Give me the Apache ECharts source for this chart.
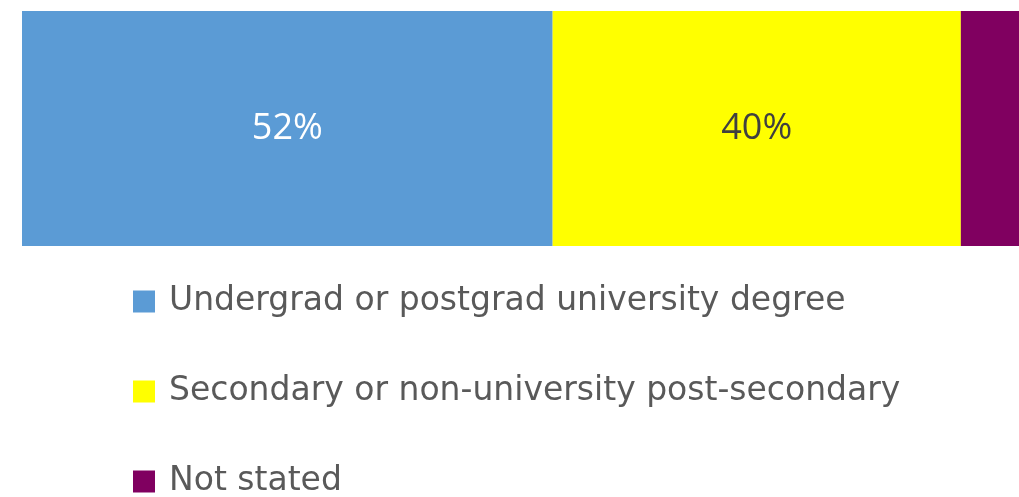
<!DOCTYPE html>
<html>
<head>
<meta charset="utf-8">
<script src="https://cdn.jsdelivr.net/npm/echarts@6/dist/echarts.min.js"></script>
<style>
  html, body { margin: 0; padding: 0; background: #ffffff; }
  #chart { width: 1019px; height: 497px; }
</style>
</head>
<body>
<div id="chart"></div>
<script>
// Share of respondents by highest education level (%)
const categories = ['Education'];
const seriesNames = [
  'Undergrad or postgrad university degree',
  'Secondary or non-university post-secondary',
  'Not stated'
];
const seriesValues = [52, 40, 8];
const seriesColors = ['#5b9bd5', '#ffff00', '#800060'];
const labelColors = ['#ffffff', '#404040', '#ffffff'];
const showLabel = [true, true, false];

const LABEL_FONT = '"Open Sans", "DejaVu Sans", sans-serif';
const LEGEND_FONT = '"DejaVu Sans", "Open Sans", sans-serif';

const chart = echarts.init(document.getElementById('chart'), null, { renderer: 'canvas' });

const series = seriesNames.map((name, i) => ({
  name: name,
  type: 'bar',
  stack: 'total',
  barWidth: 235,
  clip: true,
  data: [seriesValues[i]],
  itemStyle: { color: seriesColors[i] },
  label: {
    show: showLabel[i],
    position: 'inside',
    formatter: '{c}%',
    color: labelColors[i],
    fontFamily: LABEL_FONT,
    fontSize: 36
  },
  emphasis: { disabled: true }
}));

chart.setOption({
  animation: false,
  backgroundColor: '#ffffff',
  grid: { left: 22, right: 0, top: 11, height: 235, containLabel: false },
  xAxis: {
    type: 'value',
    min: 0,
    max: 97.7,
    show: false
  },
  yAxis: {
    type: 'category',
    data: categories,
    show: false
  },
  legend: {
    orient: 'vertical',
    left: 128,
    top: 280,
    width: 880,
    height: 400,
    icon: 'rect',
    itemWidth: 22,
    itemHeight: 22,
    itemGap: 57,
    selectedMode: false,
    textStyle: {
      fontFamily: LEGEND_FONT,
      fontSize: 33,
      color: '#595959',
      padding: [0, 0, 0, 9]
    },
    data: seriesNames
  },
  series: series
});
</script>
</body>
</html>
